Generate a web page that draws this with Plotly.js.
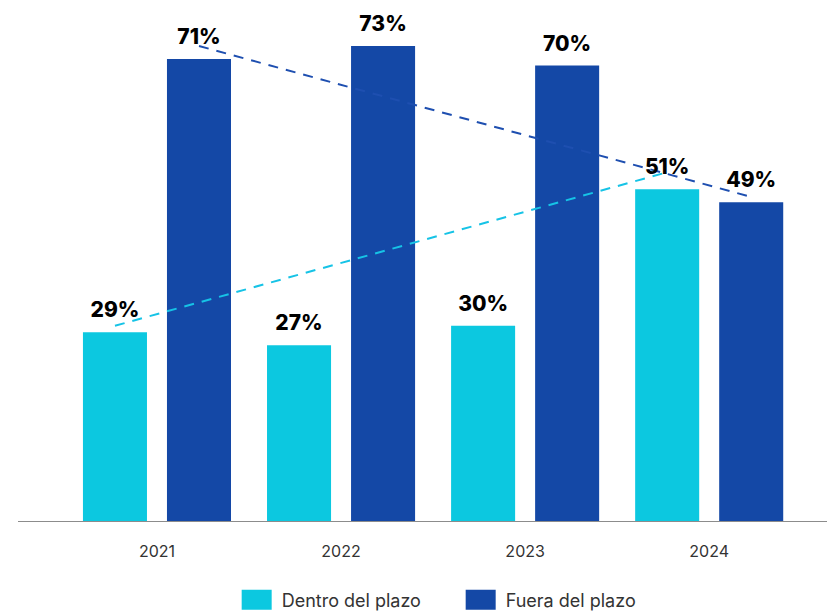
<!DOCTYPE html>
<html>
<head>
<meta charset="utf-8">
<script src="https://cdn.plot.ly/plotly-3.0.1.min.js"></script>
<style>html,body{margin:0;padding:0;background:#fff;}#chart{width:827px;height:612px;}</style>
</head>
<body>
<div id="chart"></div>
<script>
const years = ['2021', '2022', '2023', '2024'];
const dentro = [29, 27, 30, 51];
const fuera = [71, 73, 70, 49];
const trendYears = ['2021', '2024'];
const trendDentro = [30, 53.6];
const trendFuera = [73, 49.8];
const seriesNames = ['Dentro del plazo', 'Fuera del plazo'];

const cyan = '#0CC8E0';
const blue = '#1448A6';
const labelFont = {family: 'Inter, "Noto Sans", sans-serif', size: 21, color: '#000', weight: 800};

const traces = [
  {type: 'bar', x: years, y: dentro, name: seriesNames[0], marker: {color: cyan}, offsetgroup: 'a', hoverinfo: 'skip'},
  {type: 'bar', x: years, y: fuera, name: seriesNames[1], marker: {color: blue}, offsetgroup: 'b', hoverinfo: 'skip'},
  {type: 'scatter', mode: 'lines', x: trendYears, y: trendDentro, showlegend: false, offsetgroup: 'a',
   line: {color: '#16C3E6', width: 2, dash: '10px,8px'}, cliponaxis: false, hoverinfo: 'skip'},
  {type: 'scatter', mode: 'lines', x: trendYears, y: trendFuera, showlegend: false, offsetgroup: 'b',
   line: {color: '#1E4FB0', width: 2, dash: '10px,8px'}, cliponaxis: false, hoverinfo: 'skip'},
  {type: 'scatter', mode: 'markers+text', x: years, y: dentro, showlegend: false, offsetgroup: 'a',
   text: dentro.map(v => v + '%'), textposition: 'top center', textfont: labelFont,
   marker: {size: 14, opacity: 0}, cliponaxis: false, hoverinfo: 'skip'},
  {type: 'scatter', mode: 'markers+text', x: years, y: fuera, showlegend: false, offsetgroup: 'b',
   text: fuera.map(v => v + '%'), textposition: 'top center', textfont: labelFont,
   marker: {size: 14, opacity: 0}, cliponaxis: false, hoverinfo: 'skip'}
];

const layout = {
  width: 827, height: 612,
  margin: {l: 18, r: 0, t: 10, b: 91},
  paper_bgcolor: '#fff', plot_bgcolor: '#fff',
  barmode: 'group', bargap: 0.087, bargroupgap: 0.238,
  scattermode: 'group', scattergap: 0.087,
  font: {family: 'Inter, "Noto Sans", sans-serif', color: '#333'},
  xaxis: {type: 'category', range: [-0.755, 3.64], showline: true, linecolor: '#8c8c8c', linewidth: 1,
          ticks: '', showgrid: false, zeroline: false, tickfont: {size: 16, color: '#333'}, ticklabelstandoff: 16, fixedrange: true},
  yaxis: {visible: false, range: [0, 78.53], showgrid: false, zeroline: false, fixedrange: true},
  showlegend: true,
  legend: {orientation: 'h', x: 0.551, xanchor: 'center', xref: 'container', y: 0.0196, yref: 'container', yanchor: 'middle',
           font: {size: 18, color: '#333'}, itemwidth: 40, entrywidth: 169, entrywidthmode: 'pixels', traceorder: 'normal'}
};

Plotly.newPlot('chart', traces, layout, {displayModeBar: false, staticPlot: true}).then(function () {
  document.querySelectorAll('.legend .legendpoints path').forEach(function (p) {
    p.setAttribute('d', 'M15,10H-15V-10H15Z');
  });
});
</script>
</body>
</html>
